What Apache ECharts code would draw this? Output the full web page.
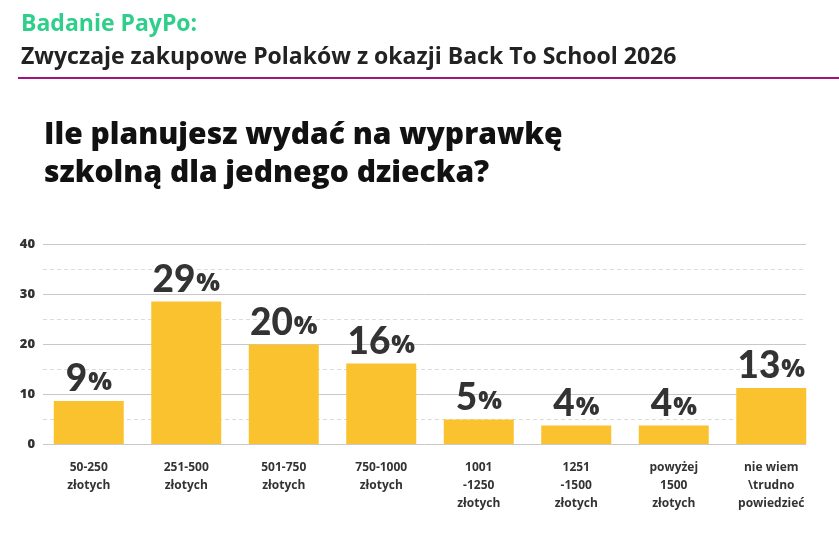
<!DOCTYPE html>
<html>
<head>
    <meta charset="utf-8">
    <title>Badanie PayPo</title>
    <script src="https://cdn.jsdelivr.net/npm/echarts@6/dist/echarts.min.js"></script>
    <style>
        html, body { margin: 0; padding: 0; background: #fff; }
        #container { width: 839px; height: 534px; }
    </style>
</head>
<body>
    <div id="container"></div>
    <script type="text/javascript">
        // dane
        var categories = ['50-250\nzłotych', '251-500\nzłotych', '501-750\nzłotych', '750-1000\nzłotych',
            '1001\n-1250\nzłotych', '1251\n-1500\nzłotych', 'powyżej\n1500\nzłotych', 'nie wiem\n\\trudno\npowiedzieć'];
        var values = [8.6, 28.5, 19.9, 16.1, 4.9, 3.7, 3.7, 11.2];
        var labels = ['9', '29', '20', '16', '5', '4', '4', '13'];
        var yTicks = [0, 10, 20, 30, 40];

        var font = '"Open Sans", Lato, sans-serif';
        var numFont = 'Lato, "Open Sans", sans-serif';
        var chart = echarts.init(document.getElementById('container'));

        var option = {
            backgroundColor: '#fff',
            animation: false,
            title: [{
                text: 'Badanie PayPo:',
                left: 16, top: 8,
                textStyle: { fontFamily: font, fontSize: 23, fontWeight: 700, color: '#2fcf8b' }
            }, {
                text: 'Zwyczaje zakupowe Polaków z okazji Back To School 2026',
                left: 16, top: 41,
                textStyle: { fontFamily: font, fontSize: 23, fontWeight: 700, color: '#222' }
            }, {
                text: 'Ile planujesz wydać na wyprawkę\nszkolną dla jednego dziecka?',
                left: 39, top: 111,
                textStyle: { fontFamily: font, fontSize: 30, fontWeight: 800, color: '#111', lineHeight: 38 }
            }],
            graphic: [{
                type: 'line',
                shape: { x1: 18, y1: 78, x2: 839, y2: 78 },
                style: { stroke: '#a3137f', lineWidth: 2 }
            }],
            grid: [
                { left: 43, right: 33, top: 244, bottom: 90 },
                { left: 40, right: 19, top: 244, bottom: 90 }
            ],
            xAxis: [{
                gridIndex: 0, type: 'category', data: categories, show: false
            }, {
                gridIndex: 1, type: 'category', data: categories,
                axisLine: { show: false },
                axisTick: { show: false },
                axisLabel: {
                    margin: 15, interval: 0, lineHeight: 18,
                    fontFamily: font, fontSize: 12, fontWeight: 700, color: '#333'
                }
            }],
            yAxis: [{
                gridIndex: 0, type: 'value',
                min: yTicks[0], max: yTicks[yTicks.length - 1], interval: 10,
                axisLine: { show: false },
                axisTick: { show: false },
                axisLabel: { margin: 8, fontFamily: font, fontSize: 13, fontWeight: 800, color: '#333' },
                splitLine: { lineStyle: { color: '#c8c8c8', width: 1 } },
                minorTick: { show: false, splitNumber: 2 },
                minorSplitLine: { show: true, lineStyle: { color: '#dcdcdc', type: [4, 3] } }
            }, {
                gridIndex: 1, type: 'value',
                min: yTicks[0], max: yTicks[yTicks.length - 1], interval: 10,
                show: false, splitLine: { show: false }
            }],
            series: [{
                type: 'bar',
                xAxisIndex: 1, yAxisIndex: 1,
                data: values,
                barWidth: 70,
                itemStyle: { color: '#f9c22e' },
                label: {
                    show: true,
                    position: 'top',
                    distance: 3,
                    formatter: function (p) { return '{n|' + labels[p.dataIndex] + '}{p|%}'; },
                    rich: {
                        n: { fontFamily: numFont, fontSize: 37, fontWeight: 900, color: '#333' },
                        p: { fontFamily: font, fontSize: 25, fontWeight: 800, color: '#333', padding: [7, 0, 0, 1] }
                    }
                }
            }]
        };
        chart.setOption(option);
    </script>
</body>
</html>
